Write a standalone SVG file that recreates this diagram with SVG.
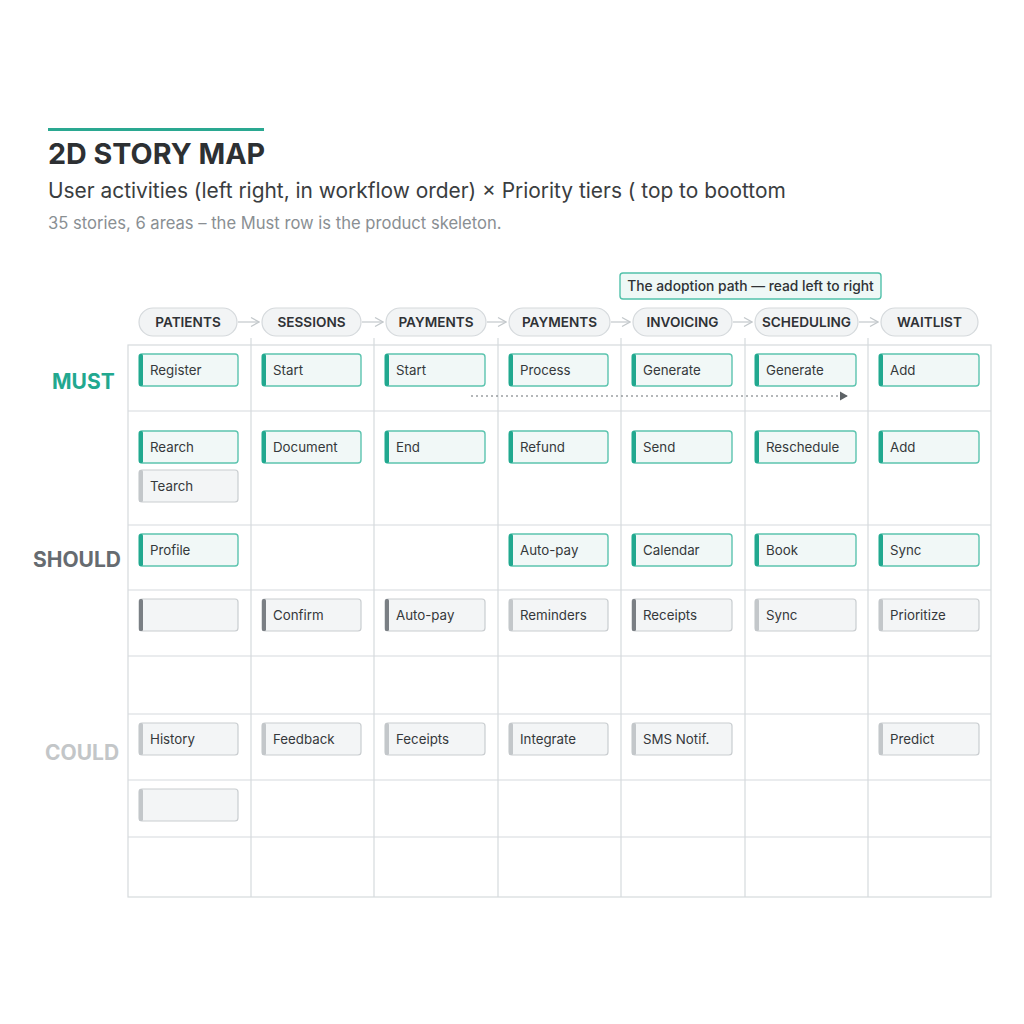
<svg xmlns="http://www.w3.org/2000/svg" width="1024" height="1024" viewBox="0 0 1024 1024">
<style>
.title{font-family:Inter,"Liberation Sans",sans-serif;font-weight:700;font-size:28.7px;fill:#2d3033}
.sub{font-family:Inter,"Liberation Sans",sans-serif;font-size:20.9px;fill:#3a3d40}
.sub2{font-family:Inter,"Liberation Sans",sans-serif;font-size:16.6px;fill:#8a8f93}
.pill rect{fill:#f2f4f5;stroke:#d5d9dc;stroke-width:1.2}
.pill text{font-family:Inter,"Liberation Sans",sans-serif;font-weight:600;font-size:13.6px;fill:#2f3235;text-anchor:middle}
.grid line{stroke:#d6dadd;stroke-width:1.2}
.card text{font-family:Inter,"Liberation Sans",sans-serif;font-size:13.3px;fill:#35383b}
.must rect.b{fill:#f1f8f7;stroke:#5cc4af;stroke-width:1.4}
.must rect.a{fill:#21a88f}
.grey rect.b{fill:#f3f5f6;stroke:#c9cdd0;stroke-width:1.2}
.dark rect.a{fill:#7a7f84}
.light rect.a{fill:#c3c7ca}
.lbl{font-family:Inter,"Liberation Sans",sans-serif;font-weight:700;font-size:21px}
.conn line{stroke:#c3c8cb;stroke-width:1.2}
</style>
<defs>
<marker id="chev" viewBox="0 0 10 10" refX="9" refY="5" markerWidth="10" markerHeight="10" markerUnits="userSpaceOnUse" orient="auto">
<path d="M1,0.5 L9,5 L1,9.5" fill="none" stroke="#c3c8cb" stroke-width="1.2"/>
</marker>
<marker id="tri" viewBox="0 0 10 10" refX="8" refY="5" markerWidth="9" markerHeight="10" markerUnits="userSpaceOnUse" orient="auto">
<path d="M0,0 L9,5 L0,10 Z" fill="#5d6266"/>
</marker>
</defs>
<rect width="1024" height="1024" fill="#ffffff"/>

<g id="header">
<rect x="48" y="128" width="216" height="3" fill="#2aa891"/>
<text class="title" x="48" y="164">2D STORY MAP</text>
<text class="sub" x="48" y="198">User activities (left right, in workflow order) × Priority tiers ( top to boottom</text>
<text class="sub2" x="48" y="229">35 stories, 6 areas – the Must row is the product skeleton.</text>
</g>

<g id="grid" class="grid">
<rect x="128" y="345" width="863" height="552" fill="none" stroke="#d6dadd" stroke-width="1.2"/>
<line x1="251" y1="338" x2="251" y2="897"/>
<line x1="374" y1="338" x2="374" y2="897"/>
<line x1="498" y1="338" x2="498" y2="897"/>
<line x1="621" y1="338" x2="621" y2="897"/>
<line x1="745" y1="338" x2="745" y2="897"/>
<line x1="868" y1="338" x2="868" y2="897"/>
<line x1="128" y1="411" x2="991" y2="411"/>
<line x1="128" y1="525" x2="991" y2="525"/>
<line x1="128" y1="590" x2="991" y2="590"/>
<line x1="128" y1="656" x2="991" y2="656"/>
<line x1="128" y1="714" x2="991" y2="714"/>
<line x1="128" y1="780" x2="991" y2="780"/>
<line x1="128" y1="837" x2="991" y2="837"/>
</g>

<g id="row-labels">
<text class="lbl" x="52" y="389" fill="#22a88f">MUST</text>
<text class="lbl" x="33" y="567" fill="#666b70">SHOULD</text>
<text class="lbl" x="45" y="760" fill="#c3c6c8" font-weight="500">COULD</text>
</g>

<g id="activities">
<g id="act-patients" class="pill"><rect x="139" y="308" width="98" height="28" rx="14"/><text x="188" y="327">PATIENTS</text></g>
<g id="act-sessions" class="pill"><rect x="262" y="308" width="99" height="28" rx="14"/><text x="311.5" y="327">SESSIONS</text></g>
<g id="act-payments1" class="pill"><rect x="386" y="308" width="100" height="28" rx="14"/><text x="436" y="327">PAYMENTS</text></g>
<g id="act-payments2" class="pill"><rect x="509" y="308" width="101" height="28" rx="14"/><text x="559.5" y="327">PAYMENTS</text></g>
<g id="act-invoicing" class="pill"><rect x="633" y="308" width="99" height="28" rx="14"/><text x="682.5" y="327">INVOICING</text></g>
<g id="act-scheduling" class="pill"><rect x="755" y="308" width="103" height="28" rx="14"/><text x="806.5" y="327">SCHEDULING</text></g>
<g id="act-waitlist" class="pill"><rect x="881" y="308" width="97" height="28" rx="14"/><text x="929.5" y="327">WAITLIST</text></g>
</g>

<g id="connectors" class="conn">
<line x1="238" y1="322" x2="259" y2="322" marker-end="url(#chev)"/>
<line x1="362" y1="322" x2="383" y2="322" marker-end="url(#chev)"/>
<line x1="487" y1="322" x2="506" y2="322" marker-end="url(#chev)"/>
<line x1="611" y1="322" x2="630" y2="322" marker-end="url(#chev)"/>
<line x1="733" y1="322" x2="752" y2="322" marker-end="url(#chev)"/>
<line x1="859" y1="322" x2="878" y2="322" marker-end="url(#chev)"/>
<line x1="471" y1="396" x2="847" y2="396" stroke-width="1.4" stroke-dasharray="2 3" marker-end="url(#tri)" style="stroke:#6b7075"/>
</g>

<g id="note">
<rect x="620" y="273" width="261" height="26" rx="3" fill="#eef8f6" stroke="#52c1aa" stroke-width="1.4"/>
<text x="750.5" y="291" font-family="Inter,'Liberation Sans',sans-serif" font-size="13.8" font-weight="500" fill="#2f3235" text-anchor="middle">The adoption path — read left to right</text>
</g>

<g id="cards">
<g id="c-register" class="card must"><rect class="b" x="139" y="354" width="99" height="32" rx="3"/><rect class="a" x="139" y="354" width="4" height="32" rx="1.5"/><text x="150" y="375">Register</text></g>
<g id="c-start1" class="card must"><rect class="b" x="262" y="354" width="99" height="32" rx="3"/><rect class="a" x="262" y="354" width="4" height="32" rx="1.5"/><text x="273" y="375">Start</text></g>
<g id="c-start2" class="card must"><rect class="b" x="385" y="354" width="100" height="32" rx="3"/><rect class="a" x="385" y="354" width="4" height="32" rx="1.5"/><text x="396" y="375">Start</text></g>
<g id="c-process" class="card must"><rect class="b" x="509" y="354" width="99" height="32" rx="3"/><rect class="a" x="509" y="354" width="4" height="32" rx="1.5"/><text x="520" y="375">Process</text></g>
<g id="c-generate1" class="card must"><rect class="b" x="632" y="354" width="100" height="32" rx="3"/><rect class="a" x="632" y="354" width="4" height="32" rx="1.5"/><text x="643" y="375">Generate</text></g>
<g id="c-generate2" class="card must"><rect class="b" x="755" y="354" width="101" height="32" rx="3"/><rect class="a" x="755" y="354" width="4" height="32" rx="1.5"/><text x="766" y="375">Generate</text></g>
<g id="c-add1" class="card must"><rect class="b" x="879" y="354" width="100" height="32" rx="3"/><rect class="a" x="879" y="354" width="4" height="32" rx="1.5"/><text x="890" y="375">Add</text></g>
<g id="c-rearch" class="card must"><rect class="b" x="139" y="431" width="99" height="32" rx="3"/><rect class="a" x="139" y="431" width="4" height="32" rx="1.5"/><text x="150" y="452">Rearch</text></g>
<g id="c-document" class="card must"><rect class="b" x="262" y="431" width="99" height="32" rx="3"/><rect class="a" x="262" y="431" width="4" height="32" rx="1.5"/><text x="273" y="452">Document</text></g>
<g id="c-end" class="card must"><rect class="b" x="385" y="431" width="100" height="32" rx="3"/><rect class="a" x="385" y="431" width="4" height="32" rx="1.5"/><text x="396" y="452">End</text></g>
<g id="c-refund" class="card must"><rect class="b" x="509" y="431" width="99" height="32" rx="3"/><rect class="a" x="509" y="431" width="4" height="32" rx="1.5"/><text x="520" y="452">Refund</text></g>
<g id="c-send" class="card must"><rect class="b" x="632" y="431" width="100" height="32" rx="3"/><rect class="a" x="632" y="431" width="4" height="32" rx="1.5"/><text x="643" y="452">Send</text></g>
<g id="c-reschedule" class="card must"><rect class="b" x="755" y="431" width="101" height="32" rx="3"/><rect class="a" x="755" y="431" width="4" height="32" rx="1.5"/><text x="766" y="452">Reschedule</text></g>
<g id="c-add2" class="card must"><rect class="b" x="879" y="431" width="100" height="32" rx="3"/><rect class="a" x="879" y="431" width="4" height="32" rx="1.5"/><text x="890" y="452">Add</text></g>
<g id="c-tearch" class="card grey light"><rect class="b" x="139" y="470" width="99" height="32" rx="3"/><rect class="a" x="139" y="470" width="4" height="32" rx="1.5"/><text x="150" y="491">Tearch</text></g>
<g id="c-profile" class="card must"><rect class="b" x="139" y="534" width="99" height="32" rx="3"/><rect class="a" x="139" y="534" width="4" height="32" rx="1.5"/><text x="150" y="555">Profile</text></g>
<g id="c-autopay1" class="card must"><rect class="b" x="509" y="534" width="99" height="32" rx="3"/><rect class="a" x="509" y="534" width="4" height="32" rx="1.5"/><text x="520" y="555">Auto-pay</text></g>
<g id="c-calendar" class="card must"><rect class="b" x="632" y="534" width="100" height="32" rx="3"/><rect class="a" x="632" y="534" width="4" height="32" rx="1.5"/><text x="643" y="555">Calendar</text></g>
<g id="c-book" class="card must"><rect class="b" x="755" y="534" width="101" height="32" rx="3"/><rect class="a" x="755" y="534" width="4" height="32" rx="1.5"/><text x="766" y="555">Book</text></g>
<g id="c-sync1" class="card must"><rect class="b" x="879" y="534" width="100" height="32" rx="3"/><rect class="a" x="879" y="534" width="4" height="32" rx="1.5"/><text x="890" y="555">Sync</text></g>
<g id="c-blank1" class="card grey dark"><rect class="b" x="139" y="599" width="99" height="32" rx="3"/><rect class="a" x="139" y="599" width="4" height="32" rx="1.5"/></g>
<g id="c-confirm" class="card grey dark"><rect class="b" x="262" y="599" width="99" height="32" rx="3"/><rect class="a" x="262" y="599" width="4" height="32" rx="1.5"/><text x="273" y="620">Confirm</text></g>
<g id="c-autopay2" class="card grey dark"><rect class="b" x="385" y="599" width="100" height="32" rx="3"/><rect class="a" x="385" y="599" width="4" height="32" rx="1.5"/><text x="396" y="620">Auto-pay</text></g>
<g id="c-reminders" class="card grey light"><rect class="b" x="509" y="599" width="99" height="32" rx="3"/><rect class="a" x="509" y="599" width="4" height="32" rx="1.5"/><text x="520" y="620">Reminders</text></g>
<g id="c-receipts" class="card grey dark"><rect class="b" x="632" y="599" width="100" height="32" rx="3"/><rect class="a" x="632" y="599" width="4" height="32" rx="1.5"/><text x="643" y="620">Receipts</text></g>
<g id="c-sync2" class="card grey light"><rect class="b" x="755" y="599" width="101" height="32" rx="3"/><rect class="a" x="755" y="599" width="4" height="32" rx="1.5"/><text x="766" y="620">Sync</text></g>
<g id="c-prioritize" class="card grey light"><rect class="b" x="879" y="599" width="100" height="32" rx="3"/><rect class="a" x="879" y="599" width="4" height="32" rx="1.5"/><text x="890" y="620">Prioritize</text></g>
<g id="c-history" class="card grey light"><rect class="b" x="139" y="723" width="99" height="32" rx="3"/><rect class="a" x="139" y="723" width="4" height="32" rx="1.5"/><text x="150" y="744">History</text></g>
<g id="c-feedback" class="card grey light"><rect class="b" x="262" y="723" width="99" height="32" rx="3"/><rect class="a" x="262" y="723" width="4" height="32" rx="1.5"/><text x="273" y="744">Feedback</text></g>
<g id="c-feceipts" class="card grey light"><rect class="b" x="385" y="723" width="100" height="32" rx="3"/><rect class="a" x="385" y="723" width="4" height="32" rx="1.5"/><text x="396" y="744">Feceipts</text></g>
<g id="c-integrate" class="card grey light"><rect class="b" x="509" y="723" width="99" height="32" rx="3"/><rect class="a" x="509" y="723" width="4" height="32" rx="1.5"/><text x="520" y="744">Integrate</text></g>
<g id="c-sms" class="card grey light"><rect class="b" x="632" y="723" width="100" height="32" rx="3"/><rect class="a" x="632" y="723" width="4" height="32" rx="1.5"/><text x="643" y="744">SMS Notif.</text></g>
<g id="c-predict" class="card grey light"><rect class="b" x="879" y="723" width="100" height="32" rx="3"/><rect class="a" x="879" y="723" width="4" height="32" rx="1.5"/><text x="890" y="744">Predict</text></g>
<g id="c-blank2" class="card grey light"><rect class="b" x="139" y="789" width="99" height="32" rx="3"/><rect class="a" x="139" y="789" width="4" height="32" rx="1.5"/></g>
</g>
</svg>
